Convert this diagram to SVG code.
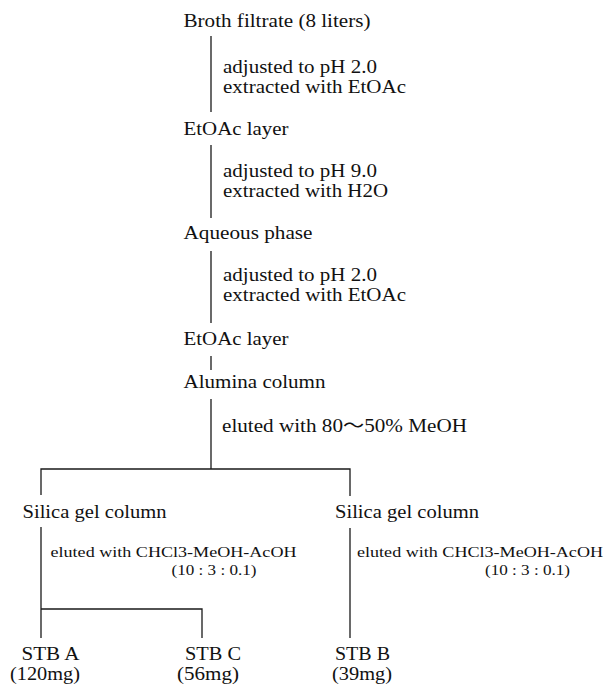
<svg xmlns="http://www.w3.org/2000/svg" width="605" height="684" viewBox="0 0 605 684">
<style>
  text { font-family: "Liberation Serif", "Times New Roman", Tinos, "DejaVu Serif", serif; fill: #111; }
  .n { font-size: 18px; }
  .l { font-size: 18px; }
  .s { font-size: 15.5px; }
  .cjk { font-family: "Noto Sans CJK JP", "Noto Sans CJK SC", sans-serif; }
  .c { stroke: #1a1a1a; stroke-width: 1.3; fill: none; }
</style>
<rect width="605" height="684" fill="#fff"/>
<g id="connectors">
  <line class="c" x1="211" y1="36" x2="211" y2="112"/>
  <line class="c" x1="211" y1="145" x2="211" y2="218"/>
  <line class="c" x1="211" y1="251" x2="211" y2="323"/>
  <line class="c" x1="211" y1="356" x2="211" y2="370"/>
  <line class="c" x1="211" y1="399" x2="211" y2="469"/>
  <polyline class="c" points="41,495 41,469 350,469 350,496"/>
  <line class="c" x1="41" y1="527" x2="41" y2="638"/>
  <polyline class="c" points="41,609 202,609 202,638"/>
  <line class="c" x1="350" y1="528" x2="350" y2="638"/>
</g>
<g id="broth"><text class="n" x="183.5" y="27" textLength="187" lengthAdjust="spacingAndGlyphs">Broth filtrate (8 liters)</text></g>
<g id="step1-label">
  <text class="l" x="223" y="72.5" textLength="154" lengthAdjust="spacingAndGlyphs">adjusted to pH 2.0</text>
  <text class="l" x="223" y="92.5" textLength="183" lengthAdjust="spacingAndGlyphs">extracted with EtOAc</text>
</g>
<g id="etoac1"><text class="n" x="183.5" y="135" textLength="105" lengthAdjust="spacingAndGlyphs">EtOAc layer</text></g>
<g id="step2-label">
  <text class="l" x="223" y="177" textLength="154" lengthAdjust="spacingAndGlyphs">adjusted to pH 9.0</text>
  <text class="l" x="223" y="197" textLength="165" lengthAdjust="spacingAndGlyphs">extracted with H2O</text>
</g>
<g id="aqueous"><text class="n" x="183.5" y="239" textLength="129" lengthAdjust="spacingAndGlyphs">Aqueous phase</text></g>
<g id="step3-label">
  <text class="l" x="223" y="281" textLength="154" lengthAdjust="spacingAndGlyphs">adjusted to pH 2.0</text>
  <text class="l" x="223" y="301" textLength="183" lengthAdjust="spacingAndGlyphs">extracted with EtOAc</text>
</g>
<g id="etoac2"><text class="n" x="183.5" y="345" textLength="105" lengthAdjust="spacingAndGlyphs">EtOAc layer</text></g>
<g id="alumina"><text class="n" x="183.5" y="388" textLength="142" lengthAdjust="spacingAndGlyphs">Alumina column</text></g>
<g id="alumina-label"><text class="l" x="222" y="432" textLength="245" lengthAdjust="spacingAndGlyphs">eluted with 80<tspan class="cjk">～</tspan>50% MeOH</text></g>
<g id="silica-left"><text class="n" x="22.5" y="518" textLength="144" lengthAdjust="spacingAndGlyphs">Silica gel column</text></g>
<g id="silica-right"><text class="n" x="335" y="518" textLength="144" lengthAdjust="spacingAndGlyphs">Silica gel column</text></g>
<g id="silica-left-label">
  <text class="s" x="50.5" y="557" textLength="246" lengthAdjust="spacingAndGlyphs">eluted with CHCl3-MeOH-AcOH</text>
  <text class="s" x="171.5" y="575" textLength="85" lengthAdjust="spacingAndGlyphs">(10 : 3 : 0.1)</text>
</g>
<g id="silica-right-label">
  <text class="s" x="357" y="557" textLength="246" lengthAdjust="spacingAndGlyphs">eluted with CHCl3-MeOH-AcOH</text>
  <text class="s" x="485" y="575" textLength="85" lengthAdjust="spacingAndGlyphs">(10 : 3 : 0.1)</text>
</g>
<g id="stb-a">
  <text class="n" x="21.5" y="660" textLength="58" lengthAdjust="spacingAndGlyphs">STB A</text>
  <text class="n" x="10" y="680" textLength="70" lengthAdjust="spacingAndGlyphs">(120mg)</text>
</g>
<g id="stb-c">
  <text class="n" x="185" y="660" textLength="56" lengthAdjust="spacingAndGlyphs">STB C</text>
  <text class="n" x="177" y="680" textLength="62" lengthAdjust="spacingAndGlyphs">(56mg)</text>
</g>
<g id="stb-b">
  <text class="n" x="335" y="660" textLength="55" lengthAdjust="spacingAndGlyphs">STB B</text>
  <text class="n" x="332" y="680" textLength="60" lengthAdjust="spacingAndGlyphs">(39mg)</text>
</g>
</svg>
